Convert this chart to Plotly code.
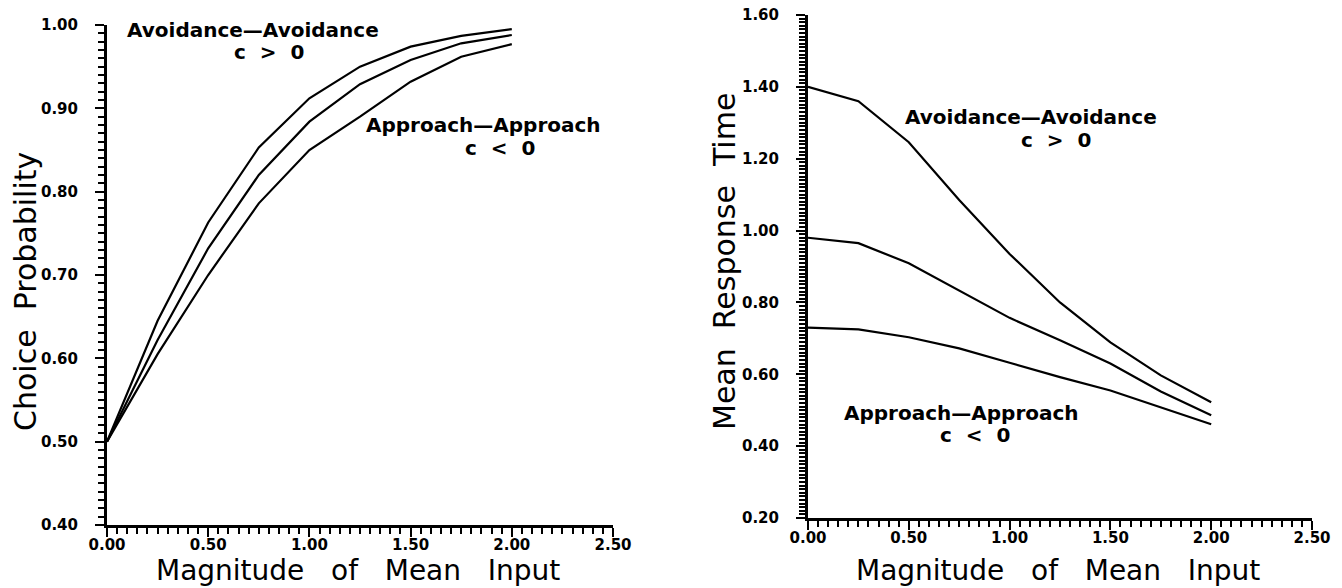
import plotly.graph_objects as go

# ---- data ----
mean_input = [0.0, 0.25, 0.5, 0.75, 1.0, 1.25, 1.5, 1.75, 2.0]

prob_top = [0.500, 0.645, 0.763, 0.853, 0.912, 0.950, 0.974, 0.987, 0.995]
prob_mid = [0.500, 0.622, 0.732, 0.820, 0.884, 0.929, 0.958, 0.978, 0.988]
prob_bot = [0.500, 0.605, 0.700, 0.786, 0.850, 0.890, 0.932, 0.962, 0.977]

rt_top = [1.400, 1.360, 1.246, 1.085, 0.935, 0.800, 0.689, 0.597, 0.522]
rt_mid = [0.980, 0.965, 0.909, 0.834, 0.757, 0.695, 0.630, 0.552, 0.486]
rt_bot = [0.730, 0.725, 0.703, 0.672, 0.632, 0.592, 0.555, 0.508, 0.461]

x_ticks = [0.0, 0.5, 1.0, 1.5, 2.0, 2.5]
prob_ticks = [0.4, 0.5, 0.6, 0.7, 0.8, 0.9, 1.0]
rt_ticks = [0.2, 0.4, 0.6, 0.8, 1.0, 1.2, 1.4, 1.6]

FONT = "DejaVu Sans"
W, H = 1342, 588

fig = go.Figure()
for ys in (prob_top, prob_mid, prob_bot):
    fig.add_trace(go.Scatter(x=mean_input, y=ys, mode="lines", xaxis="x", yaxis="y",
                             line=dict(color="black", width=2.2), showlegend=False,
                             hoverinfo="skip"))
for ys in (rt_top, rt_mid, rt_bot):
    fig.add_trace(go.Scatter(x=mean_input, y=ys, mode="lines", xaxis="x2", yaxis="y2",
                             line=dict(color="black", width=2.2), showlegend=False,
                             hoverinfo="skip"))

tickfont = dict(family=FONT, size=15, color="black", weight="bold")

def xax(domain, anchor):
    return dict(domain=domain, anchor=anchor, range=[0, 2.5], tickvals=x_ticks,
                ticktext=[f"{v:.2f}" for v in x_ticks], ticks="outside", ticklen=9,
                tickwidth=2, tickcolor="black", showline=True, linecolor="black",
                linewidth=3, showgrid=False, zeroline=False, tickfont=tickfont,
                automargin=False, ticklabelstandoff=-5,
                minor=dict(dtick=0.05, tick0=0, ticks="outside", ticklen=6,
                           tickwidth=1.5, tickcolor="black", showgrid=False))

def yax(domain, anchor, rng, tv):
    return dict(domain=domain, anchor=anchor, range=rng, tickvals=tv,
                ticktext=[f"{v:.2f}" for v in tv], ticks="outside", ticklen=9,
                tickwidth=2, tickcolor="black", showline=True, linecolor="black",
                linewidth=3, showgrid=False, zeroline=False, tickfont=tickfont,
                automargin=False, ticklabelstandoff=14,
                minor=dict(dtick=0.01, tick0=0, ticks="outside", ticklen=6,
                           tickwidth=1.5, tickcolor="black", showgrid=False))

annfont = dict(family=FONT, size=20, color="black", weight="bold")
titlefont = dict(family=FONT, size=30, color="black")
xtitlefont = dict(family=FONT, size=28, color="black")

anns = [
    dict(x=0.72, y=0.994, xref="x", yref="y", text="Avoidance\u2014Avoidance"),
    dict(x=0.80, y=0.968, xref="x", yref="y", text="c  >  0"),
    dict(x=1.86, y=0.880, xref="x", yref="y", text="Approach\u2014Approach"),
    dict(x=1.94, y=0.852, xref="x", yref="y", text="c  <  0"),
    dict(x=1.106, y=1.316, xref="x2", yref="y2", text="Avoidance\u2014Avoidance"),
    dict(x=1.23, y=1.252, xref="x2", yref="y2", text="c  >  0"),
    dict(x=0.76, y=0.491, xref="x2", yref="y2", text="Approach\u2014Approach"),
    dict(x=0.83, y=0.430, xref="x2", yref="y2", text="c  <  0"),
]
annotations = [dict(a, showarrow=False, font=annfont, xanchor="center", yanchor="middle")
               for a in anns]
xtitles = [
    dict(x=358 / W, y=0, xref="paper", yref="paper",
         text="Magnitude   of   Mean   Input"),
    dict(x=1058 / W, y=0, xref="paper", yref="paper",
         text="Magnitude   of   Mean   Input"),
]
for a in xtitles:
    a.update(showarrow=False, font=xtitlefont, xanchor="center", yanchor="bottom",
             borderpad=0)
ytitles = [
    dict(x=25 / W, y=1 - 292 / H, xref="paper", yref="paper",
         text="Choice  Probability", textangle=-90),
    dict(x=725 / W, y=1 - 262 / H, xref="paper", yref="paper",
         text="Mean  Response  Time", textangle=-90),
]
for a in ytitles:
    a.update(showarrow=False, font=titlefont, xanchor="center", yanchor="middle")
annotations += xtitles + ytitles

fig.update_layout(
    template="none",
    width=W, height=H, margin=dict(l=0, r=0, t=0, b=0),
    paper_bgcolor="white", plot_bgcolor="white",
    xaxis=xax([107 / W, 613 / W], "y"),
    yaxis=yax([1 - 525 / H, 1 - 25 / H], "x", [0.4, 1.0], prob_ticks),
    xaxis2=xax([808 / W, 1312 / W], "y2"),
    yaxis2=yax([1 - 518 / H, 1 - 15 / H], "x2", [0.2, 1.6], rt_ticks),
    annotations=annotations,
)

fig.write_html("out.html")
